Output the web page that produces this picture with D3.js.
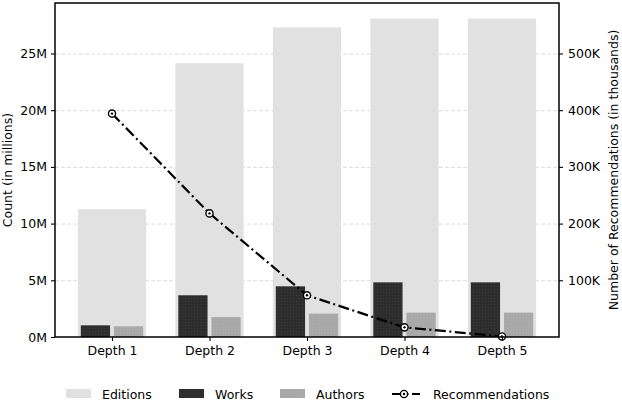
<!DOCTYPE html>
<style>
    body { margin: 0; background: #fff; }
    svg text { font-family: "DejaVu Sans", sans-serif; }
</style>
<svg width="622" height="400"></svg>
<script src="https://d3js.org/d3.v7.min.js"></script>
<script>
    var depths = ["Depth 1", "Depth 2", "Depth 3", "Depth 4", "Depth 5"];
    var editions = [11.26e6, 24.14e6, 27.3e6, 28.08e6, 28.08e6];
    var works = [1.03e6, 3.68e6, 4.47e6, 4.82e6, 4.82e6];
    var authors = [0.94e6, 1.76e6, 2.06e6, 2.15e6, 2.15e6];
    var recommendations = [394e3, 218e3, 73.5e3, 17e3, 1e3];
    var leftTicks = [0, 5e6, 10e6, 15e6, 20e6, 25e6];
    var rightTicks = [100e3, 200e3, 300e3, 400e3, 500e3];

    var svg = d3.select("svg"),
        margin = { top: 3, right: 63, bottom: 63, left: 55 },
        width = 622 - margin.left - margin.right,
        height = 400 - margin.top - margin.bottom,
        g = svg.append("g").attr("transform", "translate(" + margin.left + "," + margin.top + ")");

    var x = d3.scalePoint().domain(depths).range([57, 57 + 4 * 97.5]);
    var step = 97.5;
    var y = d3.scaleLinear().domain([0, 29.45e6]).range([height, 0]);
    var y2 = d3.scaleLinear().domain([0, 589e3]).range([height, 0]);

    // dotted hatch patterns
    var defs = svg.append("defs");
    var pw = defs.append("pattern").attr("id", "hw").attr("width", 3).attr("height", 3)
        .attr("patternUnits", "userSpaceOnUse");
    pw.append("rect").attr("width", 3).attr("height", 3).attr("fill", "#2d2d2d");
    pw.append("rect").attr("x", 1).attr("y", 1).attr("width", 1).attr("height", 1).attr("fill", "#3a3a3a");
    var pa = defs.append("pattern").attr("id", "ha").attr("width", 3).attr("height", 3)
        .attr("patternUnits", "userSpaceOnUse");
    pa.append("rect").attr("width", 3).attr("height", 3).attr("fill", "#aaaaaa");
    pa.append("rect").attr("x", 1).attr("y", 1).attr("width", 1).attr("height", 1).attr("fill", "#a2a2a2");

    // grid
    g.append("g").selectAll("line")
        .data(leftTicks.slice(1))
        .enter().append("line")
        .attr("x1", 0).attr("x2", width)
        .attr("y1", function (d) { return y(d) + 0.5; })
        .attr("y2", function (d) { return y(d) + 0.5; })
        .attr("stroke", "#dcdcdc")
        .attr("stroke-width", 1)
        .attr("stroke-dasharray", "4,2");

    g.append("g").selectAll("rect")
        .data(editions)
        .enter().append("rect")
        .attr("x", function (d, i) { return x(depths[i]) - 0.35 * step; })
        .attr("width", 0.7 * step)
        .attr("y", function (d) { return y(d); })
        .attr("height", function (d) { return height - y(d); })
        .attr("fill", "#e1e1e1");

    g.append("g").selectAll("rect")
        .data(works)
        .enter().append("rect")
        .attr("x", function (d, i) { return x(depths[i]) - 0.32 * step; })
        .attr("width", 0.3 * step)
        .attr("y", function (d) { return y(d); })
        .attr("height", function (d) { return height - y(d); })
        .attr("fill", "url(#hw)");

    g.append("g").selectAll("rect")
        .data(authors)
        .enter().append("rect")
        .attr("x", function (d, i) { return x(depths[i]) + 0.02 * step; })
        .attr("width", 0.3 * step)
        .attr("y", function (d) { return y(d); })
        .attr("height", function (d) { return height - y(d); })
        .attr("fill", "url(#ha)");

    // recommendations line
    var line = d3.line()
        .x(function (d, i) { return x(depths[i]); })
        .y(function (d) { return y2(d); });
    g.append("path")
        .datum(recommendations)
        .attr("d", line)
        .attr("fill", "none")
        .attr("stroke", "#000")
        .attr("stroke-width", 2.2)
        .attr("stroke-dasharray", "11,3.5,2,3.5");
    var pts = g.append("g").selectAll("g")
        .data(recommendations)
        .enter().append("g")
        .attr("transform", function (d, i) { return "translate(" + x(depths[i]) + "," + y2(d) + ")"; });
    pts.append("circle").attr("r", 3.6).attr("fill", "#fff").attr("stroke", "#000").attr("stroke-width", 1.4);
    pts.append("circle").attr("r", 1.2).attr("fill", "#000");

    // axes
    var xa = g.append("g")
        .attr("transform", "translate(0," + height + ")")
        .call(d3.axisBottom(x).tickSizeOuter(0).tickSizeInner(4).tickPadding(5));
    var ya = g.append("g")
        .call(d3.axisLeft(y).tickValues(leftTicks).tickSizeOuter(0).tickSizeInner(4).tickPadding(4)
            .tickFormat(function (d) { return (d / 1e6) + "M"; }));
    var ya2 = g.append("g")
        .attr("transform", "translate(" + width + ",0)")
        .call(d3.axisRight(y2).tickValues(rightTicks).tickSizeOuter(0).tickSizeInner(4).tickPadding(5)
            .tickFormat(function (d) { return (d / 1e3) + "K"; }));
    [xa, ya, ya2].forEach(function (a) {
        a.selectAll(".domain").remove();
        a.selectAll("line").attr("stroke", "#000").attr("stroke-width", 1.1);
        a.selectAll("text").attr("font-size", 12.5).attr("fill", "#000")
            .style("font-family", "DejaVu Sans");
    });

    // frame
    g.append("rect")
        .attr("x", 0).attr("y", 0).attr("width", width).attr("height", height)
        .attr("fill", "none").attr("stroke", "#000").attr("stroke-width", 1.5);

    svg.append("text")
        .attr("transform", "translate(12," + (margin.top + height / 2) + ") rotate(-90)")
        .attr("text-anchor", "middle")
        .attr("font-size", 12.5)
        .text("Count (in millions)");
    svg.append("text")
        .attr("transform", "translate(618," + (margin.top + height / 2) + ") rotate(-90)")
        .attr("text-anchor", "middle")
        .attr("font-size", 12.5)
        .text("Number of Recommendations (in thousands)");

    // legend
    var lg = svg.append("g").attr("transform", "translate(0,389)");
    var legendItems = [
        { label: "Editions", x: 66, fill: "#e1e1e1" },
        { label: "Works", x: 179, fill: "url(#hw)" },
        { label: "Authors", x: 280, fill: "url(#ha)" }
    ];
    lg.selectAll("rect")
        .data(legendItems)
        .enter().append("rect")
        .attr("x", function (d) { return d.x; })
        .attr("y", 0).attr("width", 25).attr("height", 9)
        .attr("fill", function (d) { return d.fill; });
    lg.selectAll("text.l")
        .data(legendItems)
        .enter().append("text")
        .attr("class", "l")
        .attr("x", function (d) { return d.x + 36; })
        .attr("y", 9.5)
        .attr("font-size", 12.5)
        .text(function (d) { return d.label; });
    lg.append("path")
        .attr("d", "M392,5H420")
        .attr("stroke", "#000").attr("stroke-width", 2.2)
        .attr("stroke-dasharray", "11,3.5,2,3.5");
    lg.append("circle").attr("cx", 404).attr("cy", 5).attr("r", 3.6)
        .attr("fill", "#fff").attr("stroke", "#000").attr("stroke-width", 1.4);
    lg.append("circle").attr("cx", 404).attr("cy", 5).attr("r", 1.2).attr("fill", "#000");
    lg.append("text").attr("x", 433).attr("y", 9.5).attr("font-size", 12.5).text("Recommendations");
</script>
